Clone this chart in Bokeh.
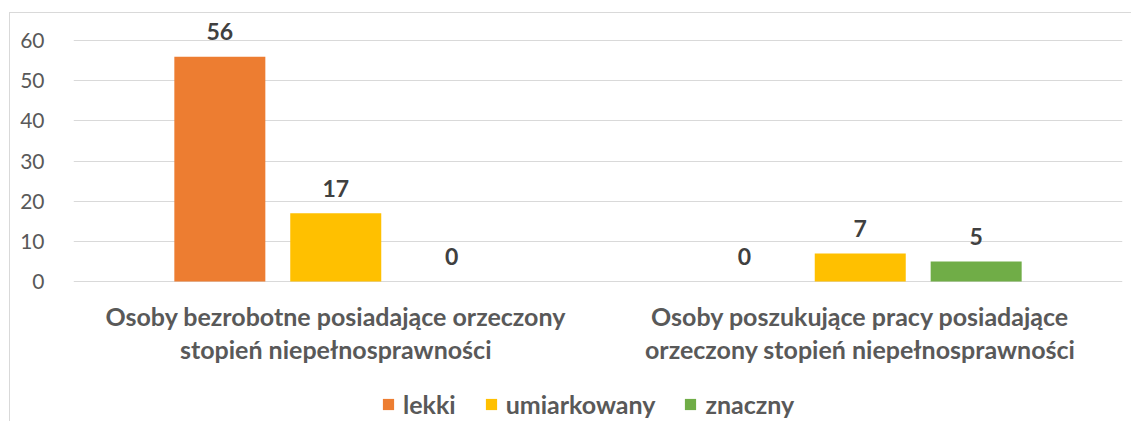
from bokeh.plotting import figure
from bokeh.models import FactorRange, ColumnDataSource, Legend, LegendItem, FixedTicker
from bokeh.transform import dodge
from bokeh.core.properties import value
from bokeh.embed import file_html
from bokeh.resources import INLINE

categories = ["Osoby bezrobotne posiadające orzeczony\nstopień niepełnosprawności",
              "Osoby poszukujące pracy posiadające\norzeczony stopień niepełnosprawności"]
series_names = ["lekki", "umiarkowany", "znaczny"]
lekki = [56, 0]
umiarkowany = [17, 7]
znaczny = [0, 5]
y_ticks = [0, 10, 20, 30, 40, 50, 60]

colors = ["#ED7D31", "#FFC000", "#70AD47"]
offsets = [-0.221, 0.0, 0.221]
FONT = "Lato"
TEXT = "#595959"

p = figure(x_range=FactorRange(*categories), y_range=(-34.85, 65),
           frame_width=1049, frame_height=401, output_backend="svg", toolbar_location=None,
           min_border_left=63, min_border_right=9, min_border_top=7, min_border_bottom=0)
p.styles = {"border-left": "1px solid #D9D9D9", "border-top": "1px solid #D9D9D9",
            "margin-left": "9px", "margin-top": "12px"}
p.outline_line_color = None
p.xaxis.visible = False
p.xgrid.grid_line_color = None
p.ygrid.grid_line_color = "#D9D9D9"
p.ygrid.grid_line_width = 1
p.yaxis.ticker = FixedTicker(ticks=y_ticks)
p.yaxis.axis_line_color = None
p.yaxis.major_tick_line_color = None
p.yaxis.minor_tick_line_color = None
p.yaxis.major_label_standoff = 23
p.yaxis.major_label_text_font = FONT
p.yaxis.major_label_text_font_size = "21px"
p.yaxis.major_label_text_color = TEXT

items = []
for name, vals, col, off in zip(series_names, [lekki, umiarkowany, znaczny], colors, offsets):
    src = ColumnDataSource(dict(x=categories, y=vals, t=[str(v) for v in vals]))
    r = p.vbar(x=dodge("x", off, range=p.x_range), top="y", width=0.1735, source=src,
               fill_color=col, line_color=None)
    p.text(x=dodge("x", off, range=p.x_range), y="y", text="t", source=src,
           text_align="center", text_baseline="alphabetic", y_offset=-25,
           text_font=value(FONT), text_font_size="23px", text_font_style="bold",
           text_color="#404040")
    items.append(LegendItem(label=name, renderers=[r]))

# category labels under the bars
cat_src = ColumnDataSource(dict(x=categories, y=[0] * len(categories)))
p.text(x="x", y="y", text="x", source=cat_src, text_align="center", text_baseline="top",
       y_offset=19, text_line_height=1.1,
       text_font=value(FONT), text_font_size="25px", text_font_style="bold", text_color=TEXT)

legend = Legend(items=items, orientation="horizontal", location=(308, 2),
                glyph_width=14, glyph_height=14, label_standoff=8, spacing=28,
                label_text_font=FONT, label_text_font_size="25px",
                label_text_font_style="bold", label_text_color=TEXT,
                border_line_color=None, background_fill_alpha=0, padding=0, margin=0)
p.add_layout(legend)

open("out.html", "w").write(file_html(p, INLINE))
